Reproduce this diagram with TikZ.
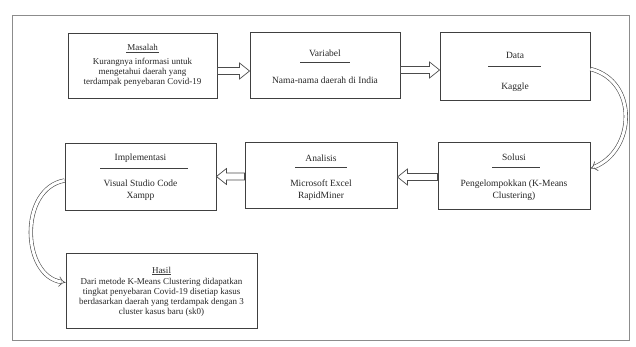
\documentclass[tikz,border=0pt]{standalone}
\usepackage{fontspec}
\setmainfont{Liberation Serif}
\usetikzlibrary{arrows.meta,calc}
\begin{document}
\begin{tikzpicture}[x=1pt,y=-1pt,
  box/.style={draw=black!75, line width=0.9pt, inner sep=0pt},
  ttl/.style={font=\fontsize{9.5}{11}\selectfont, align=center, inner sep=0pt, text=black!85},
  body/.style={font=\fontsize{9.5}{12}\selectfont, align=center, inner sep=0pt, text=black!85},
  small/.style={font=\fontsize{9}{10}\selectfont, align=center, inner sep=0pt, text=black!85},
  sep/.style={draw=black!75, line width=0.7pt},
  block/.style={draw=black!70, line width=0.7pt, fill=white, line join=miter},
  rblock/.style={block, to path={($(\tikztostart)+(0,-3.5)$) -- ($(\tikztotarget)+(-10,-3.5)$) -- ($(\tikztotarget)+(-10,-8)$) -- (\tikztotarget) -- ($(\tikztotarget)+(-10,8)$) -- ($(\tikztotarget)+(-10,3.5)$) -- ($(\tikztostart)+(0,3.5)$) -- cycle}},
  lblock/.style={block, to path={($(\tikztostart)+(0,-3.5)$) -- ($(\tikztotarget)+(10,-3.5)$) -- ($(\tikztotarget)+(10,-8)$) -- (\tikztotarget) -- ($(\tikztotarget)+(10,8)$) -- ($(\tikztotarget)+(10,3.5)$) -- ($(\tikztostart)+(0,3.5)$) -- cycle}},
  thin hollow/.style={draw=black!70, line width=0.6pt, double=white, double distance=3pt, -{Implies}}]
\useasboundingbox (0,0) rectangle (636,347);
\draw[black!45, line width=0.8pt] (12,15) rectangle (629,340);

% boxes
\node[box, minimum width=149pt, minimum height=65pt] (m) at (142.5,65.5) {};
\node[box, minimum width=150pt, minimum height=66pt] (v) at (325,65) {};
\node[box, minimum width=150pt, minimum height=68pt] (d) at (515,66) {};
\node[box, minimum width=151pt, minimum height=67pt] (im) at (140.5,176.5) {};
\node[box, minimum width=152pt, minimum height=66pt] (an) at (321,175) {};
\node[box, minimum width=152pt, minimum height=67pt] (so) at (514,175.5) {};
\node[box, minimum width=191pt, minimum height=75pt] (h) at (161.5,290.5) {};

% texts
\node[small] (mt) at (142.5,47) {Masalah};
\draw[sep] (126,52) -- (159,52);
\node[small] (mb) at (142.5,72) {Kurangnya informasi untuk\\mengetahui daerah yang\\terdampak penyebaran Covid-19};

\node[ttl] (vt) at (325,53) {Variabel};
\draw[sep] (300,62) -- (350,62);
\node[body] (vb) at (325,80) {Nama-nama daerah di India};

\node[ttl] (dt) at (515,55) {Data};
\draw[sep] (488,66) -- (541,66);
\node[body] (db) at (515,87) {Kaggle};

\node[ttl] (imt) at (140.5,158) {Implementasi};
\draw[sep] (100,168) -- (188,168);
\node[body] (imb) at (140.5,190.5) {Visual Studio Code\\Xampp};

\node[ttl] (ant) at (321,158) {Analisis};
\draw[sep] (295,167) -- (347,167);
\node[body] (anb) at (321,190.5) {Microsoft Excel\\RapidMiner};

\node[ttl] (sot) at (514,157) {Solusi};
\draw[sep] (492,167) -- (540,167);
\node[body] (sob) at (514,190.5) {Pengelompokkan (K-Means\\Clustering)};

\node[small] (ht) at (161.5,270) {Hasil};
\draw[sep] (152,274.5) -- (171,274.5);
\node[small] (hb) at (161.5,297) {Dari metode K-Means Clustering didapatkan\\tingkat penyebaran Covid-19 disetiap kasus\\berdasarkan daerah yang terdampak dengan 3\\cluster kasus baru (sk0)};

% arrows
\draw[rblock] ([yshift=-5.5pt]m.east) to ([yshift=-5.5pt]m.east -| v.west);
\draw[rblock] ([yshift=-5pt]v.east) to ([yshift=-5pt]v.east -| d.west);
\draw[lblock] ([yshift=-1.5pt]so.west) to ([yshift=-1.5pt]so.west -| an.east);
\draw[lblock] ([yshift=-1.5pt]an.west) to ([yshift=-1.5pt]an.west -| im.east);
\draw[thin hollow] ([yshift=-3pt]d.east) .. controls +(48,12) and +(45,-18) .. ([yshift=7pt]so.east);
\draw[thin hollow] ([yshift=-4pt]im.west) .. controls +(-46,8) and +(-44,-6) .. ([yshift=8pt]h.west);
\end{tikzpicture}
\end{document}
